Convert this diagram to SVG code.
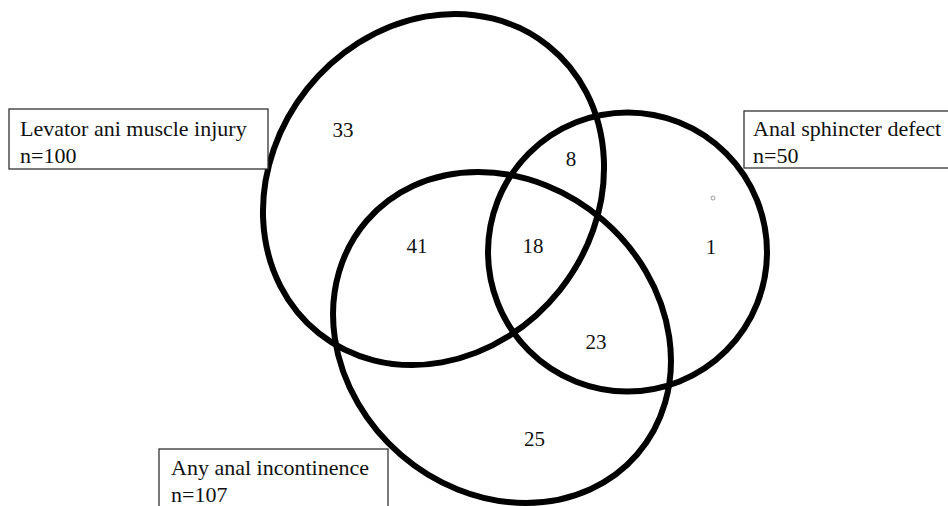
<svg xmlns="http://www.w3.org/2000/svg" width="948" height="506" viewBox="0 0 948 506">
<style>
.set{fill:none;stroke:#000;stroke-width:6}
.box{fill:#fff;stroke:#333;stroke-width:1.3}
text{font-family:"Liberation Serif","Times New Roman",serif;font-size:22px;fill:#111}
.num{text-anchor:middle;font-size:21px}
</style>
<rect x="0" y="0" width="948" height="506" fill="#fff"/>
<g id="levator">
<ellipse class="set" cx="433.5" cy="189.5" rx="183.9" ry="161.5" transform="rotate(-51.5 433.5 189.5)"/>
</g>
<g id="sphincter">
<ellipse class="set" cx="627.5" cy="252" rx="139.5" ry="139.5"/>
</g>
<g id="incontinence">
<ellipse class="set" cx="502" cy="337.5" rx="178.7" ry="154.9" transform="rotate(40.8 502 337.5)"/>
</g>
<g id="label-levator">
<rect class="box" x="9" y="109" width="259" height="60"/>
<text x="20" y="136">Levator ani muscle injury</text>
<text x="20" y="163">n=100</text>
</g>
<g id="label-sphincter">
<rect class="box" x="744" y="111" width="210" height="57"/>
<text x="753" y="136">Anal sphincter defect</text>
<text x="753" y="163">n=50</text>
</g>
<g id="label-incontinence">
<rect class="box" x="159" y="449" width="229" height="70"/>
<text x="171" y="475">Any anal incontinence</text>
<text x="171" y="502">n=107</text>
</g>
<g id="counts">
<text class="num" x="343" y="137">33</text>
<text class="num" x="571" y="166">8</text>
<text class="num" x="417" y="253">41</text>
<text class="num" x="533" y="253">18</text>
<text class="num" x="711" y="254">1</text>
<text class="num" x="596" y="349">23</text>
<text class="num" x="534.5" y="446">25</text>
</g>
<circle cx="713" cy="198" r="2" fill="none" stroke="#888" stroke-width="0.8"/>
</svg>
